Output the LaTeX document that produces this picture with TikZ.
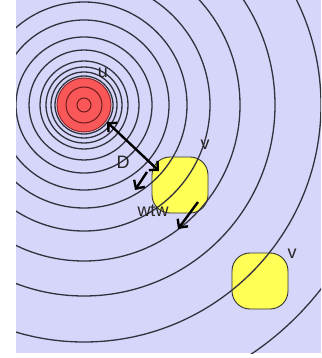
\documentclass[tikz,border=0pt]{standalone}
\usepackage{fontspec}
\setmainfont{Liberation Sans}
\usetikzlibrary{arrows.meta}
\definecolor{bg}{RGB}{214,214,250}
\definecolor{ringc}{RGB}{50,50,62}
\definecolor{redf}{RGB}{250,88,88}
\definecolor{redl}{RGB}{150,40,40}
\definecolor{yel}{RGB}{255,255,85}
\tikzset{
  ring/.style={draw=ringc, line width=1.3pt},
  blob/.style={draw=black!80, line width=0.9pt, fill=yel, rounded corners=18pt},
  lbl/.style={font=\fontsize{18}{18}\selectfont, text=black!85, inner sep=0pt},
  dimarrow/.style={line width=2.4pt, black, arrows={-Straight Barb[angle=90:9pt]}},
}
\begin{document}
\begin{tikzpicture}[x=1pt,y=-1pt]
\useasboundingbox (0,0) rectangle (321,358);
\fill[bg] (16,0) rectangle (321,353);
\coordinate (c) at (84,105);
% red source
\fill[redf, draw=redl, line width=1pt] (c) circle[radius=27pt];
\draw[redl!70!black, line width=1pt] (c) circle[radius=18pt];
\draw[redl!70!black, line width=1pt] (c) circle[radius=7pt];
% yellow blobs
\path[blob] (152,157) rectangle (208,213);
\path[blob] (232,253) rectangle (288,309);
\node[inner sep=0pt, minimum size=56pt] (v1) at (180,185) {};
\node[inner sep=0pt, minimum size=56pt] (v2) at (260,281) {};
% rings (drawn over the blobs)
\begin{scope}
\clip (16,0) rectangle (321,353);
\foreach \r in {29,33,38,44,55,68,85,103,126,156,191,237,300}
  \draw[ring] (c) circle[radius=\r pt];
\end{scope}
% labels
\node[lbl] (u) at (103,73) {u};
\node[lbl] (va) at (205,145) {v};
\node[lbl] (vb) at (292,254) {v};
\node[lbl] (d) at (123,162) {D};
\node[lbl] (w) at (153,211) {wtw};
% arrows
\coordinate (da) at (107,122);
\coordinate (db) at (159,171);
\draw[dimarrow, arrows={Straight Barb[angle=90:9pt]-Straight Barb[angle=90:9pt]}] (da) -- (db);
\coordinate (sa) at (147,172);
\coordinate (sb) at (135,190);
\draw[dimarrow] (sa) -- (sb);
\coordinate (wa) at (198,202);
\coordinate (wb) at (178,229);
\draw[dimarrow] (wa) -- (wb);
\end{tikzpicture}
\end{document}
